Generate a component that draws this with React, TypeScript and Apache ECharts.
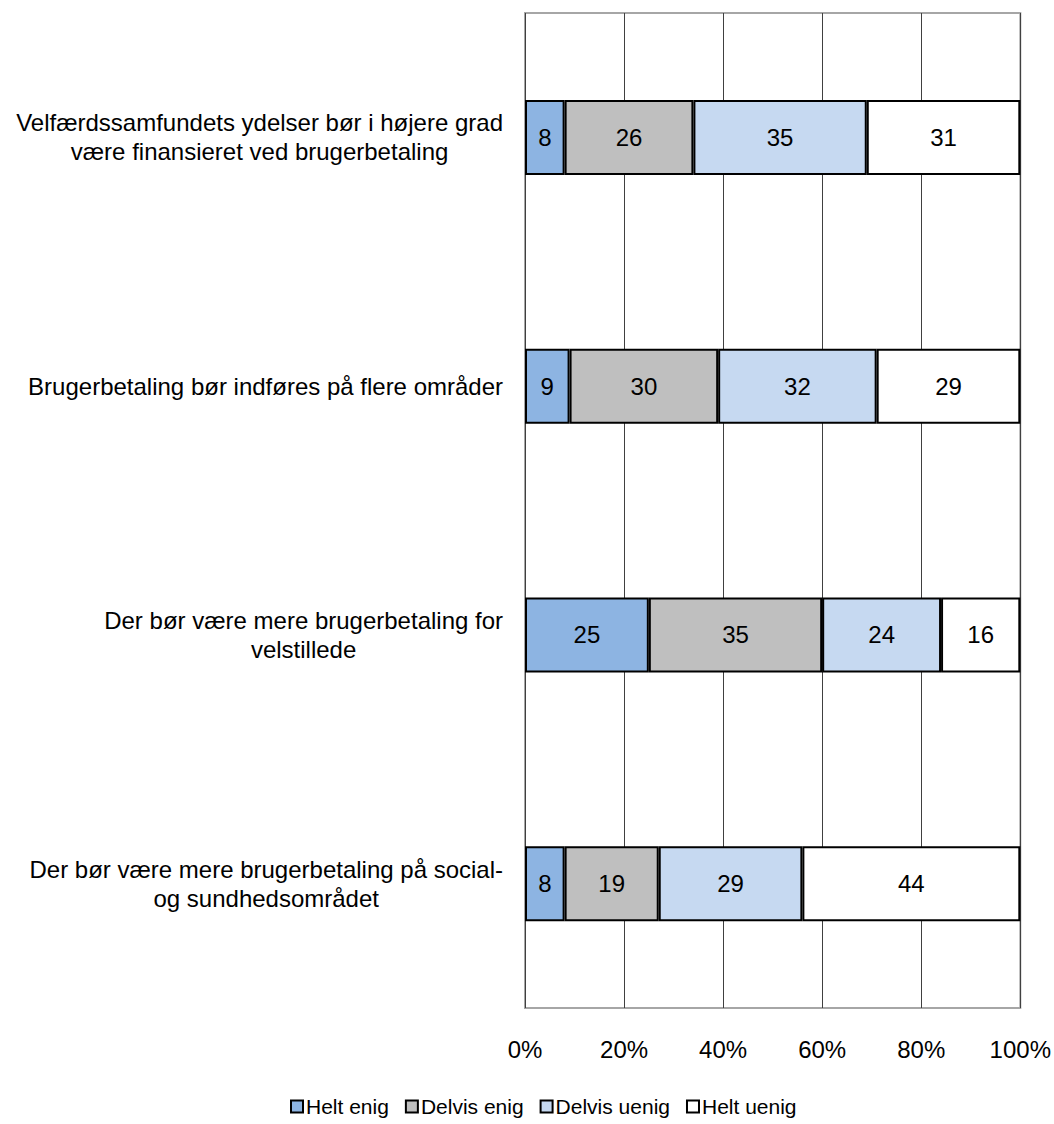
import React, { useEffect, useRef } from "react";
import * as echarts from "echarts";

const categories = [
  "Velfærdssamfundets ydelser bør i højere grad\nvære finansieret ved brugerbetaling",
  "Brugerbetaling bør indføres på flere områder",
  "Der bør være mere brugerbetaling for\nvelstillede",
  "Der bør være mere brugerbetaling på social-\nog sundhedsområdet",
];
const seriesNames = ["Helt enig", "Delvis enig", "Delvis uenig", "Helt uenig"];
const heltEnig = [8, 9, 25, 8];
const delvisEnig = [26, 30, 35, 19];
const delvisUenig = [35, 32, 24, 29];
const heltUenig = [31, 29, 16, 44];
const xTicks = [0, 20, 40, 60, 80, 100];

const colors = ["#8DB4E2", "#BFBFBF", "#C6D9F1", "#FFFFFF"];
const FONT = "'Liberation Sans', Arial, sans-serif";

export default function App() {
  const ref = useRef<HTMLDivElement>(null);
  useEffect(() => {
    document.body.style.margin = "0";
    const chart = echarts.init(ref.current!, null, { renderer: "svg" });
    const values = [heltEnig, delvisEnig, delvisUenig, heltUenig];
    chart.setOption({
      animation: false,
      textStyle: { fontFamily: FONT },
      grid: {
        left: 525,
        right: 32,
        top: 13,
        bottom: 116,
        show: true,
        borderColor: "#A6A6A6",
        borderWidth: 2,
        backgroundColor: "transparent",
      },
      legend: {
        data: seriesNames,
        left: 290,
        top: 1096,
        padding: 0,
        itemWidth: 12,
        itemHeight: 12,
        itemGap: 16,
        icon: "rect",
        textStyle: { fontSize: 21, color: "#000", fontFamily: FONT, padding: [0, 0, 0, -2] },
      },
      xAxis: {
        type: "value",
        min: xTicks[0],
        max: xTicks[xTicks.length - 1],
        interval: 20,
        axisLine: { show: false },
        axisTick: { show: false },
        splitLine: { show: true, lineStyle: { color: "#404040", width: 1 } },
        axisLabel: {
          formatter: "{value}%",
          fontSize: 24,
          color: "#000",
          margin: 29,
          fontFamily: FONT,
        },
      },
      yAxis: {
        type: "category",
        inverse: true,
        data: categories,
        axisLine: { show: false },
        axisTick: { show: false },
        axisLabel: {
          align: "right",
          margin: 22,
          color: "#000",
          fontSize: 24,
          fontFamily: FONT,
          formatter: (v: string) =>
            v
              .split("\n")
              .map((l) => `{c|${l}}`)
              .join("\n"),
          rich: {
            c: { align: "center", fontSize: 24, lineHeight: 29, color: "#000", fontFamily: FONT },
          },
        },
      },
      series: seriesNames.map((name, i) => ({
        name,
        type: "bar",
        stack: "total",
        barWidth: 75,
        data: values[i],
        itemStyle: { color: colors[i], borderColor: "#000", borderWidth: 2 },
        label: {
          show: true,
          position: "inside",
          color: "#000",
          fontSize: 24,
          fontFamily: FONT,
        },
      })),
    });
    return () => chart.dispose();
  }, []);
  return <div ref={ref} style={{ width: 1054, height: 1124 }} />;
}
